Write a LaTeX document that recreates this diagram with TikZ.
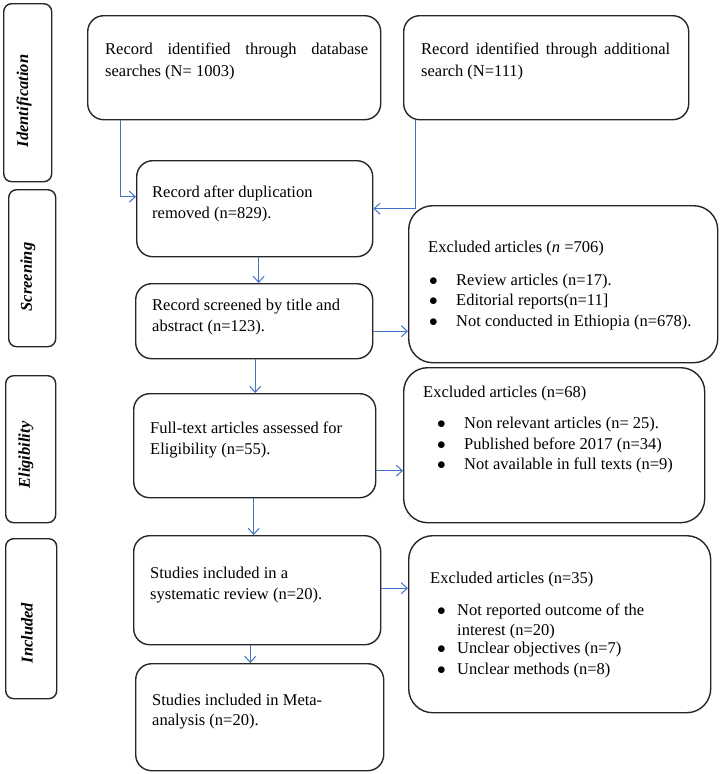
\documentclass[tikz,border=0pt]{standalone}
\usepackage{fontspec}
\setmainfont{Liberation Serif}
\usetikzlibrary{arrows.meta}
\definecolor{arr}{HTML}{4472C4}
\definecolor{edge}{HTML}{262626}
\tikzset{
 box/.style={draw=edge, line width=1.4pt, rounded corners=16pt, inner sep=0pt},
 bigbox/.style={draw=edge, line width=1.4pt, rounded corners=24pt, inner sep=0pt},
 side/.style={draw=edge, line width=1.4pt, rounded corners=8pt, inner sep=0pt},
 txt/.style={anchor=base west, inner sep=0pt, font=\fontsize{16.5}{22}\selectfont},
 stxt/.style={rotate=90, inner sep=0pt, font=\fontsize{16.5}{22}\selectfont\bfseries\itshape},
 flow/.style={draw=arr, line width=1pt, -{Straight Barb[length=6pt,width=11pt]}},
}
\newcommand\bx[6]{\node[#6, anchor=north west, minimum width={#4pt-#2pt}, minimum height={#5pt-#3pt}] (#1) at (#2,#3) {};}
\newcommand\tl[4]{\node[txt] (#1) at (#2,#3) {#4};}
\newcommand\bl[5]{\node[txt] (#1) at (#2,#3) {\makebox[#4pt][l]{$\bullet$}#5};}
\begin{document}
\begin{tikzpicture}[x=1pt,y=-1pt]
\useasboundingbox (0,0) rectangle (720,774);
% side labels
\bx{s1}{3}{3}{51}{181}{side}
\bx{s2}{8}{189}{55}{346}{side}
\bx{s3}{5}{375}{55}{522}{side}
\bx{s4}{5}{538}{56}{698}{side}
\node[stxt] (st1) at (24,101) {Identification};
\node[stxt] (st2) at (28,277) {Screening};
\node[stxt] (st3) at (26,455) {Eligibility};
\node[stxt] (st4) at (27,633) {Included};
% main boxes
\bx{b1}{87}{15}{380}{119}{box}
\bx{b2}{403}{15}{688}{119}{box}
\bx{b3}{136}{160}{372}{256}{box}
\bx{b4}{135}{283}{372}{358}{box}
\bx{b5}{133}{393}{375}{497}{box}
\bx{b6}{133}{535}{380}{644}{box}
\bx{b7}{135}{663}{383}{770}{box}
\bx{e1}{408}{205}{717}{362}{bigbox}
\bx{e2}{403}{367}{704}{522}{bigbox}
\bx{e3}{408}{535}{710}{712}{bigbox}
% texts
\tl{t1a}{105}{54}{\makebox[263pt][s]{Record identified through database}}
\tl{t1b}{105}{76}{searches (N= 1003)}
\tl{t2a}{421}{54}{\makebox[249pt][s]{Record identified through additional}}
\tl{t2b}{421}{76}{search (N=111)}
\tl{t3a}{152}{197}{Record after duplication}
\tl{t3b}{152}{218}{removed (n=829).}
\tl{t4a}{152}{310}{Record screened by title and}
\tl{t4b}{152}{331}{abstract (n=123).}
\tl{t5a}{150}{433}{Full-text articles assessed for}
\tl{t5b}{150}{454}{Eligibility (n=55).}
\tl{t6a}{150}{578}{Studies included in a}
\tl{t6b}{150}{599}{systematic review (n=20).}
\tl{t7a}{152}{705}{Studies included in Meta-}
\tl{t7b}{152}{725}{analysis (n=20).}
\tl{x1h}{428}{252}{Excluded articles (\textit{n} =706)}
\bl{x1a}{429}{285}{27}{Review articles (n=17).}
\bl{x1b}{429}{305}{27}{Editorial reports(n=11]}
\bl{x1c}{429}{326}{27}{Not conducted in Ethiopia (n=678).}
\tl{x2h}{423}{397}{Excluded articles (n=68)}
\bl{x2a}{437}{428}{27}{Non relevant articles (n= 25).}
\bl{x2b}{437}{449}{27}{Published before 2017 (n=34)}
\bl{x2c}{437}{469}{27}{Not available in full texts (n=9)}
\tl{x3h}{430}{583}{Excluded articles (n=35)}
\bl{x3a}{437}{615}{20}{Not reported outcome of the}
\tl{x3b}{457}{635}{interest (n=20)}
\bl{x3c}{437}{653}{20}{Unclear objectives (n=7)}
\bl{x3d}{437}{674}{20}{Unclear methods (n=8)}
% connectors
\draw[flow] ([xshift=33pt]b1.south west) |- ([yshift=12pt]b3.west);
\draw[flow] ([xshift=12pt]b2.south west) |- (b3.east);
\draw[flow] ([xshift=4pt]b3.south) -- ([xshift=4pt]b3.south |- b4.north);
\draw[flow] ([xshift=1pt]b4.south) -- ([xshift=1pt]b4.south |- b5.north);
\draw[flow] ([xshift=-1pt]b5.south) -- ([xshift=-1pt]b5.south |- b6.north);
\draw[flow] ([xshift=-7pt]b6.south) -- ([xshift=-7pt]b6.south |- b7.north);
\draw[flow] ([yshift=-10pt]b4.east) -- ([yshift=-10pt]b4.east -| e1.west);
\draw[flow] ([yshift=-25pt]b5.east) -- ([yshift=-25pt]b5.east -| e2.west);
\draw[flow] ([yshift=2pt]b6.east) -- ([yshift=2pt]b6.east -| e3.west);
\end{tikzpicture}
\end{document}
